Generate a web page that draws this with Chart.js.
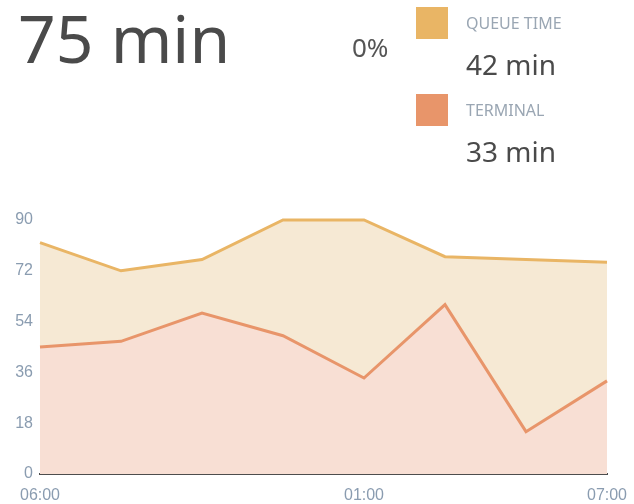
<!DOCTYPE html>
<html>
<head>
<meta charset="utf-8">
<script src="https://cdn.jsdelivr.net/npm/chart.js@4/dist/chart.umd.min.js"></script>
<style>
  body { margin: 0; background: #fff; }
  canvas { display: block; }
</style>
</head>
<body>
<canvas id="chart" width="634" height="504"></canvas>
<script>
// Datos
const timeLabels = ["06:00", "", "", "", "01:00", "", "", "07:00"];
const terminalMin = [45, 47, 57, 49, 34, 60, 15, 33];
const queueMin = [37, 25, 19, 41, 56, 17, 61, 42];
const yTicks = [0, 18, 36, 54, 72, 90];
const changeText = "0%";

const queueColor = "#E9B565";
const terminalColor = "#E8956A";
const tickColor = "#8A9CB0";

const lastIdx = terminalMin.length - 1;
const totalNow = terminalMin[lastIdx] + queueMin[lastIdx];

// Cabecera (total + leyenda) dibujada en el canvas
const headerPlugin = {
  id: "header",
  afterDraw(chart) {
    const ctx = chart.ctx;
    ctx.save();
    ctx.textBaseline = "alphabetic";
    ctx.textAlign = "left";

    ctx.fillStyle = "#4a4a4a";
    ctx.font = "66px 'Noto Sans'";
    ctx.fillText(totalNow + " min", 18, 63);

    ctx.fillStyle = "#555";
    ctx.font = "26px 'Noto Sans'";
    ctx.fillText(changeText, 352, 57);

    const items = [
      { label: "QUEUE TIME", value: queueMin[lastIdx], color: queueColor, y: 7 },
      { label: "TERMINAL", value: terminalMin[lastIdx], color: terminalColor, y: 94 }
    ];
    items.forEach(it => {
      ctx.fillStyle = it.color;
      ctx.fillRect(416, it.y, 32, 32);
      ctx.fillStyle = "#9AA6B3";
      ctx.font = "16px 'Noto Sans'";
      ctx.fillText(it.label, 466, it.y + 22);
      ctx.fillStyle = "#4a4a4a";
      ctx.font = "28px 'Noto Sans'";
      ctx.fillText(it.value + " min", 466, it.y + 68);
    });
    ctx.restore();
  }
};

new Chart(document.getElementById("chart"), {
  type: "line",
  data: {
    labels: timeLabels,
    datasets: [
      {
        label: "TERMINAL",
        data: terminalMin,
        borderColor: terminalColor,
        backgroundColor: "#F8DFD4",
        fill: "origin",
        borderWidth: 3,
        pointRadius: 0,
        tension: 0,
        clip: 4
      },
      {
        label: "QUEUE TIME",
        data: queueMin,
        borderColor: queueColor,
        backgroundColor: "#F6E9D4",
        fill: "-1",
        borderWidth: 3,
        pointRadius: 0,
        tension: 0,
        clip: 4
      }
    ]
  },
  options: {
    responsive: false,
    animation: false,
    layout: { padding: { top: 220, right: 27, left: 0, bottom: 0 } },
    plugins: {
      legend: { display: false },
      tooltip: { enabled: false }
    },
    scales: {
      x: {
        grid: { display: false, drawTicks: false },
        border: { display: true, color: "#4d4d4d", width: 2 },
        ticks: {
          color: tickColor,
          font: { family: "'Liberation Sans'", size: 16 },
          padding: 12,
          maxRotation: 0,
          autoSkip: false
        },
        afterFit: s => {
          s.height = 30;
          s.paddingLeft = 0;
          s.paddingRight = 0;
        }
      },
      y: {
        stacked: true,
        min: 0,
        max: 90,
        grid: { display: false, drawTicks: false },
        border: { display: false },
        afterBuildTicks: s => { s.ticks = yTicks.map(v => ({ value: v })); },
        ticks: {
          color: tickColor,
          font: { family: "'Liberation Sans'", size: 16 },
          padding: 7
        },
        afterFit: s => { s.width = 40; }
      }
    }
  },
  plugins: [headerPlugin]
});
</script>
</body>
</html>
